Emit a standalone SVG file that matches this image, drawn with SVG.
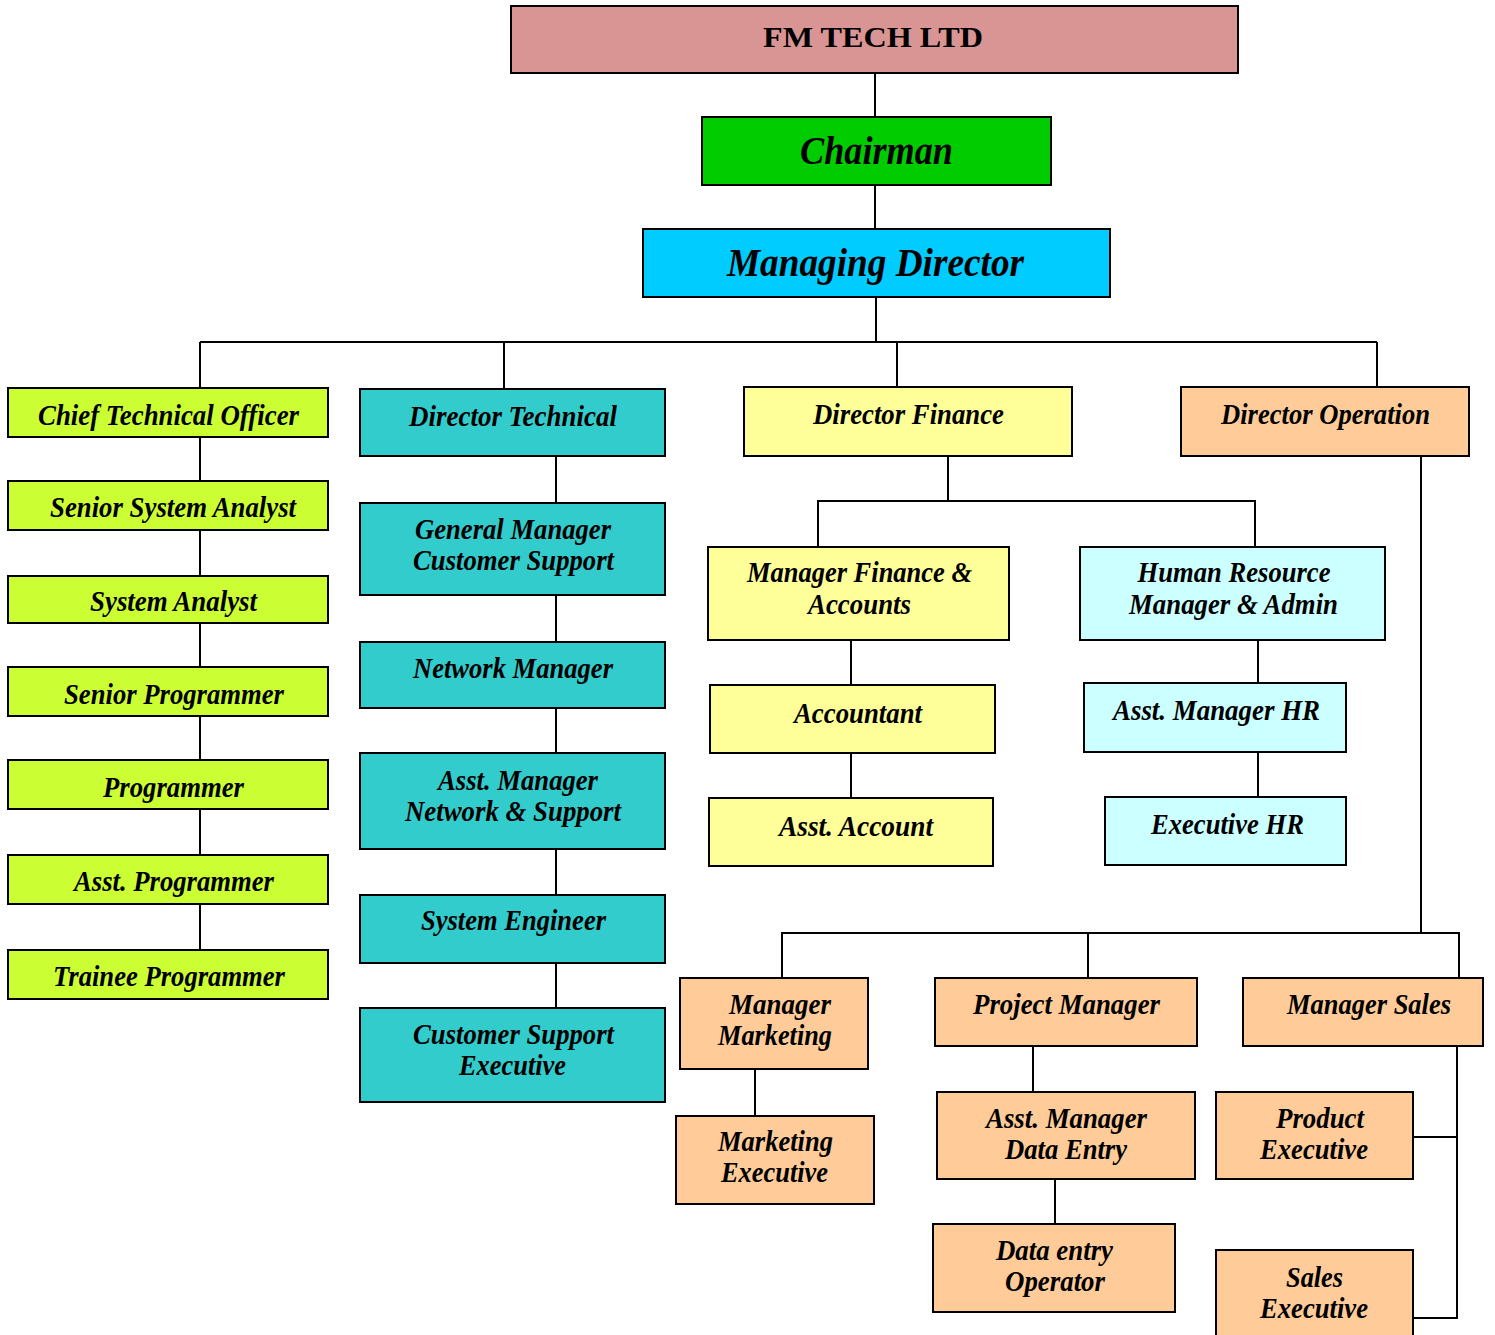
<svg xmlns="http://www.w3.org/2000/svg" width="1495" height="1335" viewBox="0 0 1495 1335">
<style>
rect{stroke:#000;stroke-width:2}
.pink{fill:#D99594}.green{fill:#00CC00}.cyan{fill:#00CCFF}
.lime{fill:#CCFF33}.teal{fill:#33CCCC}.yel{fill:#FFFF99}.lc{fill:#CCFFFF}.org{fill:#FFCC99}
text{font-family:"Liberation Serif","Times New Roman",serif;font-weight:bold;font-style:italic;font-size:29.5px;fill:#000;text-anchor:middle}
.big{font-size:39px}
.co{font-style:normal;font-size:30px}
#connectors path{fill:none;stroke:#000;stroke-width:2}
</style>
<rect x="0" y="0" width="1495" height="1335" style="fill:#fff;stroke:none"/>
<g id="connectors">
<path d="M875 73V117M875 185V229M876 297V342M200 342H1377M200 342V388M504 342V389M897 342V388M1377 342V388"/>
<path d="M200 437V481M200 530V576M200 623V667M200 716V760M200 809V855M200 904V950"/>
<path d="M556 456V503M556 595V642M556 708V753M556 849V895M556 963V1008"/>
<path d="M948 456V501M818 547V501H1255V547M851 640V685M851 753V798M1258 640V683M1258 752V797"/>
<path d="M1421 456V933M782 978V933H1459V978M1088 933V978M755 1069V1116M1033 1046V1092M1055 1179V1224"/>
<path d="M1457 1046V1318H1413M1413 1137H1457"/>
</g>
<g id="n-fm"><rect class="pink" x="511" y="6" width="727" height="67"/><text class="co" x="873" y="47" textLength="220" lengthAdjust="spacingAndGlyphs">FM TECH LTD</text></g>
<g id="n-chairman"><rect class="green" x="702" y="117" width="349" height="68"/><text class="big" x="876.5" y="164" textLength="153" lengthAdjust="spacingAndGlyphs">Chairman</text></g>
<g id="n-md"><rect class="cyan" x="643" y="229" width="467" height="68"/><text class="big" x="875.5" y="276" textLength="297" lengthAdjust="spacingAndGlyphs">Managing Director</text></g>

<g id="n-cto"><rect class="lime" x="8" y="388" width="320" height="49"/><text x="168.5" y="425" textLength="261" lengthAdjust="spacingAndGlyphs">Chief Technical Officer</text></g>
<g id="n-ssa"><rect class="lime" x="8" y="481" width="320" height="49"/><text x="173" y="517" textLength="246" lengthAdjust="spacingAndGlyphs">Senior System Analyst</text></g>
<g id="n-sa"><rect class="lime" x="8" y="576" width="320" height="47"/><text x="173.5" y="611" textLength="167" lengthAdjust="spacingAndGlyphs">System Analyst</text></g>
<g id="n-sp"><rect class="lime" x="8" y="667" width="320" height="49"/><text x="174" y="704" textLength="220" lengthAdjust="spacingAndGlyphs">Senior Programmer</text></g>
<g id="n-p"><rect class="lime" x="8" y="760" width="320" height="49"/><text x="173.5" y="797" textLength="141" lengthAdjust="spacingAndGlyphs">Programmer</text></g>
<g id="n-ap"><rect class="lime" x="8" y="855" width="320" height="49"/><text x="174" y="891" textLength="200" lengthAdjust="spacingAndGlyphs">Asst. Programmer</text></g>
<g id="n-tp"><rect class="lime" x="8" y="950" width="320" height="49"/><text x="169" y="986" textLength="232" lengthAdjust="spacingAndGlyphs">Trainee Programmer</text></g>

<g id="n-dt"><rect class="teal" x="360" y="389" width="305" height="67"/><text x="513" y="426" textLength="208" lengthAdjust="spacingAndGlyphs">Director Technical</text></g>
<g id="n-gm"><rect class="teal" x="360" y="503" width="305" height="92"/><text x="513" y="539" textLength="196" lengthAdjust="spacingAndGlyphs">General Manager</text><text x="513.5" y="570" textLength="201" lengthAdjust="spacingAndGlyphs">Customer Support</text></g>
<g id="n-nm"><rect class="teal" x="360" y="642" width="305" height="66"/><text x="513" y="678" textLength="200" lengthAdjust="spacingAndGlyphs">Network Manager</text></g>
<g id="n-amns"><rect class="teal" x="360" y="753" width="305" height="96"/><text x="518" y="790" textLength="160" lengthAdjust="spacingAndGlyphs">Asst. Manager</text><text x="513" y="821" textLength="216" lengthAdjust="spacingAndGlyphs">Network &amp; Support</text></g>
<g id="n-se"><rect class="teal" x="360" y="895" width="305" height="68"/><text x="513.5" y="930" textLength="185" lengthAdjust="spacingAndGlyphs">System Engineer</text></g>
<g id="n-cse"><rect class="teal" x="360" y="1008" width="305" height="94"/><text x="513.5" y="1044" textLength="201" lengthAdjust="spacingAndGlyphs">Customer Support</text><text x="512.5" y="1075" textLength="107" lengthAdjust="spacingAndGlyphs">Executive</text></g>

<g id="n-df"><rect class="yel" x="744" y="387" width="328" height="69"/><text x="908.5" y="424" textLength="191" lengthAdjust="spacingAndGlyphs">Director Finance</text></g>
<g id="n-do"><rect class="org" x="1181" y="387" width="288" height="69"/><text x="1325.5" y="424" textLength="209" lengthAdjust="spacingAndGlyphs">Director Operation</text></g>
<g id="n-mfa"><rect class="yel" x="708" y="547" width="301" height="93"/><text x="859.5" y="582" textLength="225" lengthAdjust="spacingAndGlyphs">Manager Finance &amp;</text><text x="859.5" y="614" textLength="103" lengthAdjust="spacingAndGlyphs">Accounts</text></g>
<g id="n-hr"><rect class="lc" x="1080" y="547" width="305" height="93"/><text x="1234" y="582" textLength="193" lengthAdjust="spacingAndGlyphs">Human Resource</text><text x="1233.5" y="614" textLength="209" lengthAdjust="spacingAndGlyphs">Manager &amp; Admin</text></g>
<g id="n-acc"><rect class="yel" x="710" y="685" width="285" height="68"/><text x="858" y="723" textLength="128" lengthAdjust="spacingAndGlyphs">Accountant</text></g>
<g id="n-aacc"><rect class="yel" x="709" y="798" width="284" height="68"/><text x="856" y="836" textLength="154" lengthAdjust="spacingAndGlyphs">Asst. Account</text></g>
<g id="n-amhr"><rect class="lc" x="1084" y="683" width="262" height="69"/><text x="1216.5" y="720" textLength="207" lengthAdjust="spacingAndGlyphs">Asst. Manager HR</text></g>
<g id="n-ehr"><rect class="lc" x="1105" y="797" width="241" height="68"/><text x="1227.5" y="834" textLength="153" lengthAdjust="spacingAndGlyphs">Executive HR</text></g>

<g id="n-mm"><rect class="org" x="680" y="978" width="188" height="91"/><text x="780" y="1014" textLength="102" lengthAdjust="spacingAndGlyphs">Manager</text><text x="775" y="1045" textLength="114" lengthAdjust="spacingAndGlyphs">Marketing</text></g>
<g id="n-me"><rect class="org" x="676" y="1116" width="198" height="88"/><text x="775.5" y="1151" textLength="115" lengthAdjust="spacingAndGlyphs">Marketing</text><text x="774.5" y="1182" textLength="107" lengthAdjust="spacingAndGlyphs">Executive</text></g>
<g id="n-pm"><rect class="org" x="935" y="978" width="262" height="68"/><text x="1066.5" y="1014" textLength="187" lengthAdjust="spacingAndGlyphs">Project Manager</text></g>
<g id="n-amde"><rect class="org" x="937" y="1092" width="258" height="87"/><text x="1066.5" y="1128" textLength="161" lengthAdjust="spacingAndGlyphs">Asst. Manager</text><text x="1066" y="1159" textLength="122" lengthAdjust="spacingAndGlyphs">Data Entry</text></g>
<g id="n-deo"><rect class="org" x="933" y="1224" width="242" height="88"/><text x="1054.5" y="1260" textLength="117" lengthAdjust="spacingAndGlyphs">Data entry</text><text x="1055" y="1291" textLength="100" lengthAdjust="spacingAndGlyphs">Operator</text></g>
<g id="n-ms"><rect class="org" x="1243" y="978" width="240" height="68"/><text x="1369" y="1014" textLength="164" lengthAdjust="spacingAndGlyphs">Manager Sales</text></g>
<g id="n-pe"><rect class="org" x="1216" y="1092" width="197" height="87"/><text x="1320" y="1128" textLength="88" lengthAdjust="spacingAndGlyphs">Product</text><text x="1314" y="1159" textLength="108" lengthAdjust="spacingAndGlyphs">Executive</text></g>
<g id="n-sle"><rect class="org" x="1216" y="1250" width="197" height="100"/><text x="1314.5" y="1287" textLength="57" lengthAdjust="spacingAndGlyphs">Sales</text><text x="1314" y="1318" textLength="108" lengthAdjust="spacingAndGlyphs">Executive</text></g>
</svg>
